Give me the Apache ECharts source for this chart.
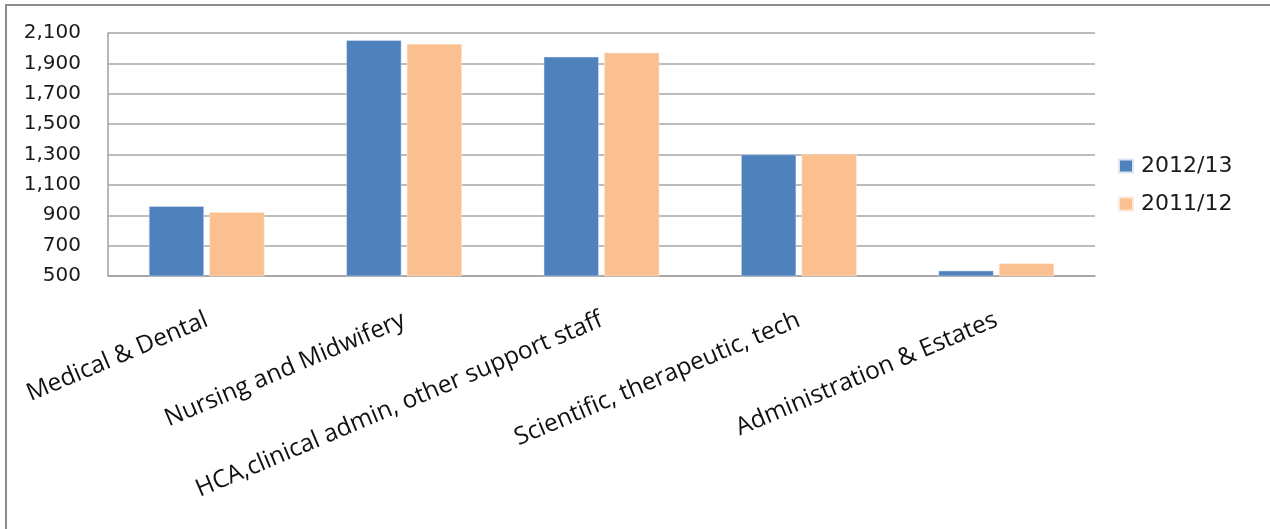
<!DOCTYPE html>
<html>
<head>
<meta charset="utf-8">
<script src="https://cdn.jsdelivr.net/npm/echarts@6/dist/echarts.min.js"></script>
<style>
html,body{margin:0;padding:0;background:#fff;overflow:hidden;}
#frame{position:absolute;left:5px;top:4px;width:1400px;height:700px;border-left:2px solid #8c8c8c;border-top:2px solid #8c8c8c;}
#chart{position:absolute;left:0;top:0;width:1270px;height:529px;}
</style>
</head>
<body>
<div id="frame"></div>
<div id="chart"></div>
<script>
const categories = ['Medical & Dental', 'Nursing and Midwifery', 'HCA,clinical admin, other support staff', 'Scientific, therapeutic, tech', 'Administration & Estates'];
const series2012 = [960, 2053, 1943, 1300, 535];
const series2011 = [920, 2028, 1970, 1304, 583];
const seriesNames = ['2012/13', '2011/12'];
const yMin = 500, yMax = 2100, yStep = 200;

const chart = echarts.init(document.getElementById('chart'), null, {renderer: 'canvas'});
chart.setOption({
  backgroundColor: 'transparent',
  animation: false,
  grid: {left: 108, right: 175, top: 33, bottom: 253, containLabel: false},
  legend: {
    orient: 'vertical',
    left: 1113, top: 150,
    itemWidth: 14, itemHeight: 13, itemGap: 16,
    icon: 'rect',
    textStyle: {fontFamily: 'DejaVu Sans', fontSize: 22, color: '#1a1a1a', padding: [0,0,0,3]},
    data: seriesNames
  },
  xAxis: {
    type: 'category',
    data: categories,
    axisLine: {show: true, lineStyle: {color: '#a0a0a0', width: 1.5}},
    axisTick: {show: false},
    axisLabel: {rotate: 23, interval: 0, margin: 43, fontFamily: 'Open Sans', fontSize: 24.5, color: '#111'}
  },
  yAxis: {
    type: 'value',
    min: yMin, max: yMax, interval: yStep,
    axisLine: {show: true, lineStyle: {color: '#a0a0a0', width: 1.5}},
    axisTick: {show: false},
    splitLine: {show: true, lineStyle: {color: '#a6a6a6', width: 1.5}},
    axisLabel: {
      margin: 27, fontFamily: 'DejaVu Sans', fontSize: 20, color: '#1a1a1a',
      formatter: v => v.toLocaleString('en-US')
    }
  },
  series: [
    {name: seriesNames[0], type: 'bar', data: series2012, barWidth: 55, barGap: '10%',
     itemStyle: {color: '#4f81bd', borderColor: '#dce6f2', borderWidth: 0.5}},
    {name: seriesNames[1], type: 'bar', data: series2011, barWidth: 55, barGap: '10%',
     itemStyle: {color: '#fac090', borderColor: '#fde9d9', borderWidth: 0.5}}
  ]
});
</script>
</body>
</html>
